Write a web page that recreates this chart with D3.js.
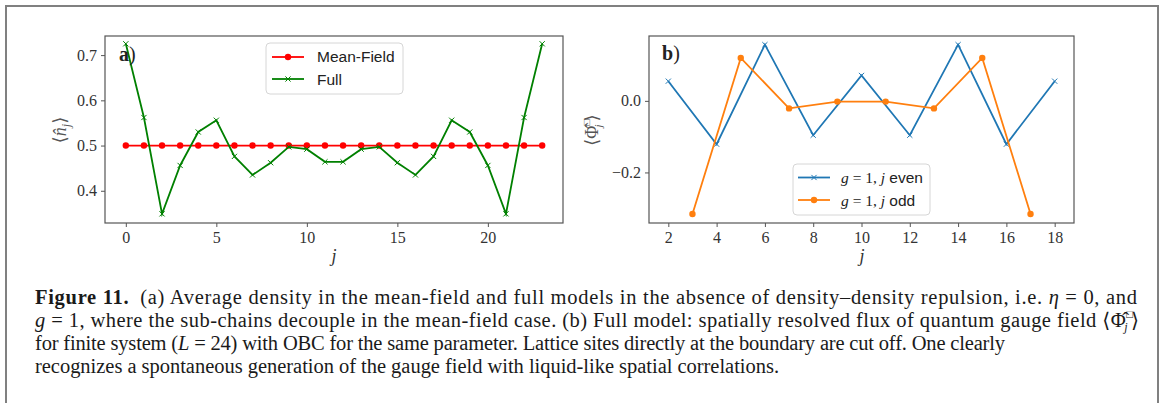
<!DOCTYPE html>
<html>
<head>
<meta charset="utf-8">
<script src="https://cdn.jsdelivr.net/npm/d3@7"></script>
<style>
  body { margin: 0; background: #fff; }
  svg { display: block; }
</style>
</head>
<body>
<script>
// данные панели a)
var sitesA = [0, 1, 2, 3, 4, 5, 6, 7, 8, 9, 10, 11, 12, 13, 14, 15, 16, 17, 18, 19, 20, 21, 22, 23];
var meanField = [0.5, 0.5, 0.5, 0.5, 0.5, 0.5, 0.5, 0.5, 0.5, 0.5, 0.5, 0.5,
                 0.5, 0.5, 0.5, 0.5, 0.5, 0.5, 0.5, 0.5, 0.5, 0.5, 0.5, 0.5];
var fullModel = [0.725, 0.562, 0.349, 0.456, 0.530, 0.556, 0.476, 0.435, 0.462, 0.497, 0.492, 0.464,
                 0.464, 0.492, 0.497, 0.462, 0.435, 0.476, 0.556, 0.530, 0.456, 0.349, 0.562, 0.725];
var ticksAx = [0, 5, 10, 15, 20];
var ticksAy = [0.4, 0.5, 0.6, 0.7];

// данные панели b)
var sitesEven = [2, 4, 6, 8, 10, 12, 14, 16, 18];
var fluxEven = [0.055, -0.121, 0.157, -0.096, 0.071, -0.096, 0.157, -0.121, 0.055];
var sitesOdd = [3, 5, 7, 9, 11, 13, 15, 17];
var fluxOdd = [-0.316, 0.120, -0.021, -0.002, -0.002, -0.021, 0.120, -0.316];
var ticksBx = [2, 4, 6, 8, 10, 12, 14, 16, 18];
var ticksBy = [-0.2, 0.0];

var W = 1163, H = 403;
var serif = "'Liberation Serif', 'DejaVu Serif', serif";
var sans = "'Liberation Sans', Arial, sans-serif";
var spine = "#555";

var svg = d3.select("body").append("svg")
    .attr("width", W)
    .attr("height", H);

// рамка рисунка
svg.append("rect")
    .attr("x", 6).attr("y", 6)
    .attr("width", 1152).attr("height", 420)
    .style("fill", "none")
    .style("stroke", "#808080")
    .style("stroke-width", 2);

function fmt(v) {
    return (v < 0 ? "\u2212" : "") + Math.abs(v).toFixed(1);
}

function crossPath(s) {
    return "M" + (-s) + "," + (-s) + "L" + s + "," + s + "M" + (-s) + "," + s + "L" + s + "," + (-s);
}

// общая функция для панели: рамка осей, тики, подписи
function makePanel(box, xDom, yDom, xt, yt) {
    var g = svg.append("g");
    var x = d3.scaleLinear().domain(xDom).range([box.x0, box.x1]);
    var y = d3.scaleLinear().domain(yDom).range([box.y1, box.y0]);

    var xa = g.append("g")
        .attr("transform", "translate(0," + box.y1 + ")")
        .call(d3.axisBottom(x).tickValues(xt).tickSize(4).tickPadding(5).tickFormat(d3.format("d")));
    var ya = g.append("g")
        .attr("transform", "translate(" + box.x0 + ",0)")
        .call(d3.axisLeft(y).tickValues(yt).tickSize(4).tickPadding(4).tickFormat(fmt));
    [xa, ya].forEach(function (a) {
        a.select(".domain").remove();
        a.selectAll("line").style("stroke", spine).style("stroke-width", 1);
        a.selectAll("text")
            .style("font-family", serif)
            .style("font-size", "16px")
            .style("fill", "#333");
    });

    g.append("rect")
        .attr("x", box.x0).attr("y", box.y0)
        .attr("width", box.x1 - box.x0).attr("height", box.y1 - box.y0)
        .style("fill", "none")
        .style("stroke", spine)
        .style("stroke-width", 1.2);
    return { g: g, x: x, y: y };
}

function drawSeries(p, xs, ys, color, marker) {
    var pts = xs.map(function (d, i) { return [p.x(d), p.y(ys[i])]; });
    p.g.append("path")
        .attr("d", d3.line()(pts))
        .style("fill", "none")
        .style("stroke", color)
        .style("stroke-width", 1.8);
    if (marker === "o") {
        p.g.selectAll(null).data(pts).enter().append("circle")
            .attr("cx", function (d) { return d[0]; })
            .attr("cy", function (d) { return d[1]; })
            .attr("r", 3.2)
            .style("fill", color);
    } else {
        p.g.selectAll(null).data(pts).enter().append("path")
            .attr("transform", function (d) { return "translate(" + d[0] + "," + d[1] + ")"; })
            .attr("d", crossPath(2.6))
            .style("stroke", color)
            .style("stroke-width", 1);
    }
}

function legendEntry(g, x, y, color, marker) {
    g.append("line")
        .attr("x1", x).attr("x2", x + 32)
        .attr("y1", y).attr("y2", y)
        .style("stroke", color).style("stroke-width", 1.8);
    if (marker === "o") {
        g.append("circle").attr("cx", x + 16).attr("cy", y).attr("r", 3.2).style("fill", color);
    } else {
        g.append("path").attr("transform", "translate(" + (x + 16) + "," + y + ")")
            .attr("d", crossPath(2.6)).style("stroke", color).style("stroke-width", 1);
    }
}

function legendBox(g, x, y, w, h) {
    g.append("rect")
        .attr("x", x).attr("y", y).attr("width", w).attr("height", h)
        .attr("rx", 4).attr("ry", 4)
        .style("fill", "white").style("fill-opacity", 0.8)
        .style("stroke", "#d6d6d6").style("stroke-width", 1);
}

// ---------- панель a) ----------
var pa = makePanel({ x0: 105, x1: 563, y0: 36, y1: 223 }, [-1.15, 24.15], [0.32875, 0.74225], ticksAx, ticksAy);
drawSeries(pa, sitesA, meanField, "#ff0000", "o");
drawSeries(pa, sitesA, fullModel, "#008000", "x");

pa.g.append("text")
    .attr("x", 119).attr("y", 61)
    .style("font-family", serif).style("font-size", "20px").style("fill", "#222")
    .html("<tspan font-weight='bold'>a</tspan>)");

legendBox(pa.g, 266, 43, 137, 51);
legendEntry(pa.g, 272, 57, "#ff0000", "o");
legendEntry(pa.g, 272, 79, "#008000", "x");
pa.g.append("text").attr("x", 317).attr("y", 62)
    .style("font-family", sans).style("font-size", "15.5px").style("fill", "#222")
    .text("Mean-Field");
pa.g.append("text").attr("x", 317).attr("y", 85)
    .style("font-family", sans).style("font-size", "15.5px").style("fill", "#222")
    .text("Full");

// подписи осей a)
pa.g.append("text")
    .attr("x", 334).attr("y", 262)
    .attr("text-anchor", "middle")
    .style("font-family", serif).style("font-style", "italic").style("font-size", "18px").style("fill", "#333")
    .text("j");
pa.g.append("text")
    .attr("transform", "translate(66,130) rotate(-90)")
    .attr("text-anchor", "middle")
    .style("font-family", serif).style("font-size", "18px").style("fill", "#555")
    .html("\u27E8<tspan font-style='italic'>n\u0302</tspan><tspan font-style='italic' font-size='12px' dy='4'>j</tspan><tspan dy='-4'>\u27E9</tspan>");

// ---------- панель b) ----------
var pb = makePanel({ x0: 649, x1: 1074, y0: 36, y1: 223 }, [1.2, 18.8], [-0.34125, 0.18125], ticksBx, ticksBy);
drawSeries(pb, sitesEven, fluxEven, "#1f77b4", "x");
drawSeries(pb, sitesOdd, fluxOdd, "#ff7f0e", "o");

pb.g.append("text")
    .attr("x", 662).attr("y", 60)
    .style("font-family", serif).style("font-size", "20px").style("fill", "#222")
    .html("<tspan font-weight='bold'>b</tspan>)");

legendBox(pb.g, 793, 164, 137, 51);
legendEntry(pb.g, 798, 177.5, "#1f77b4", "x");
legendEntry(pb.g, 798, 200, "#ff7f0e", "o");
[["even", 183], ["odd", 206]].forEach(function (e) {
    pb.g.append("text").attr("x", 841).attr("y", e[1])
        .style("font-size", "15.5px").style("fill", "#222")
        .html("<tspan font-family=\"" + serif + "\" font-style='italic'>g</tspan>" +
              "<tspan font-family=\"" + serif + "\"> = 1, </tspan>" +
              "<tspan font-family=\"" + serif + "\" font-style='italic'>j</tspan>" +
              "<tspan font-family=\"" + sans + "\"> " + e[0] + "</tspan>");
});

pb.g.append("text")
    .attr("x", 862).attr("y", 262)
    .attr("text-anchor", "middle")
    .style("font-family", serif).style("font-style", "italic").style("font-size", "18px").style("fill", "#333")
    .text("j");
pb.g.append("text")
    .attr("transform", "translate(598,130) rotate(-90)")
    .attr("text-anchor", "middle")
    .style("font-family", serif).style("font-size", "18px").style("fill", "#555")
    .html("\u27E8\u03A6\u0302<tspan font-size='10px' dy='-8'>\u25A1</tspan><tspan font-style='italic' font-size='11px' dx='-8' dy='12'>j</tspan><tspan dx='3' dy='-4'>\u27E9</tspan>");

// ---------- подпись к рисунку ----------
var cap = svg.append("g")
    .style("font-family", serif)
    .style("font-size", "20.5px")
    .style("fill", "#1a1a1a");
var capLines = [
    "<tspan font-weight='bold'>Figure 11.</tspan>\u2002(a) Average density in the mean-field and full models in the absence of density\u2013density repulsion, i.e. <tspan font-style='italic'>\u03B7</tspan> = 0, and",
    "<tspan font-style='italic'>g</tspan> = 1, where the sub-chains decouple in the mean-field case. (b) Full model: spatially resolved flux of quantum gauge field \u27E8\u03A6\u0302<tspan font-size='11px' dy='-9'>\u25A1</tspan><tspan font-style='italic' font-size='12px' dx='-9' dy='13'>j</tspan><tspan dx='3' dy='-4'>\u27E9</tspan>",
    "for finite system (<tspan font-style='italic'>L</tspan> = 24) with OBC for the same parameter. Lattice sites directly at the boundary are cut off. One clearly",
    "recognizes a spontaneous generation of the gauge field with liquid-like spatial correlations."
];
var capWidths = [1102, 1104, 970, 744];
capLines.forEach(function (l, i) {
    cap.append("text")
        .attr("x", 35)
        .attr("y", 304 + i * 23)
        .attr("textLength", capWidths[i])
        .attr("lengthAdjust", "spacing")
        .html(l);
});
</script>
</body>
</html>
